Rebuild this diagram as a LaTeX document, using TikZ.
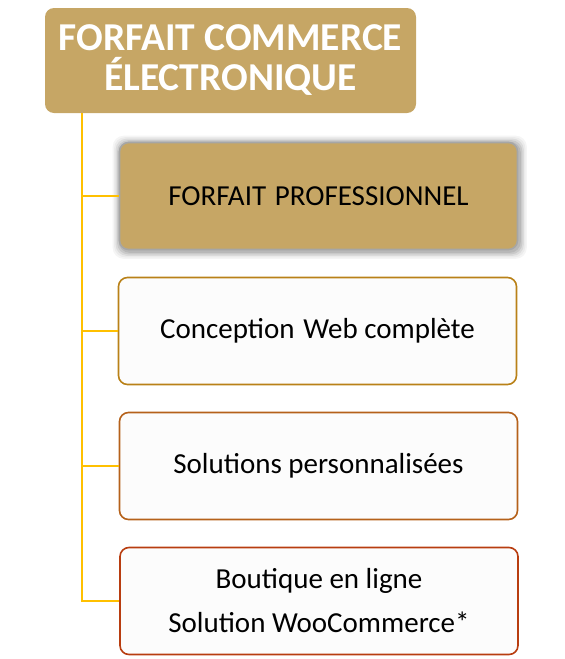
\documentclass[tikz,border=0pt]{standalone}
\usepackage{fontspec}
\setmainfont{Carlito}
\usetikzlibrary{backgrounds}
\definecolor{gold}{HTML}{C6A665}
\definecolor{goldline}{HTML}{B98118}
\definecolor{rustline}{HTML}{B5611A}
\definecolor{redline}{HTML}{B83D10}
\definecolor{trunkcol}{HTML}{FFC000}
\begin{document}
\begin{tikzpicture}[x=1pt, y=-1pt,
    titlebox/.style={rectangle, rounded corners=9pt, fill=gold, text=white,
        minimum width=371pt, minimum height=105pt, align=center,
        font=\fontsize{39.5}{40}\selectfont\bfseries},
    itembox/.style={rectangle, rounded corners=9pt, line width=1.6pt, fill=white!99!black,
        minimum width=398pt, minimum height=107pt, align=center,
        font=\fontsize{29}{44}\selectfont},
    branch/.style={draw=trunkcol, line width=2pt}]
    \useasboundingbox (0, 0) rectangle (565, 659);

    \node[titlebox] (title) at (230.5, 60.5) {FORFAIT COMMERCE\\ÉLECTRONIQUE};

        \node[itembox, fill=gold, draw=gray!70] (pro) at (318.5, 196) {FORFAIT\hspace{0.3em}PROFESSIONNEL};
        \node[itembox, draw=goldline] (web) at (317.5, 331) {Conception\hspace{0.3em}Web complète};
        \node[itembox, draw=rustline] (sol) at (318.5, 466) {Solutions personnalisées};
        \node[itembox, draw=redline] (shop) at (319, 601) {Boutique en ligne\\Solution WooCommerce*};

    % soft glow behind the first box
    \begin{scope}[on background layer]
        \foreach \g/\c in {7/4, 5.5/8, 4/14, 2.5/21, 1/28}
            \fill[black!\c, rounded corners=11pt] ([shift={(-\g+1, -\g+1)}]pro.north west)
                rectangle ([shift={(\g+1.5, \g+1.5)}]pro.south east);
    \end{scope}

    \coordinate (trunk) at (82, 113);
    \draw[branch] (trunk |- pro.west) -- (pro.west);
    \draw[branch] (trunk) |- (shop.west);
    \draw[branch] (trunk |- web.west) -- (web.west);
    \draw[branch] (trunk |- sol.west) -- (sol.west);
\end{tikzpicture}
\end{document}
